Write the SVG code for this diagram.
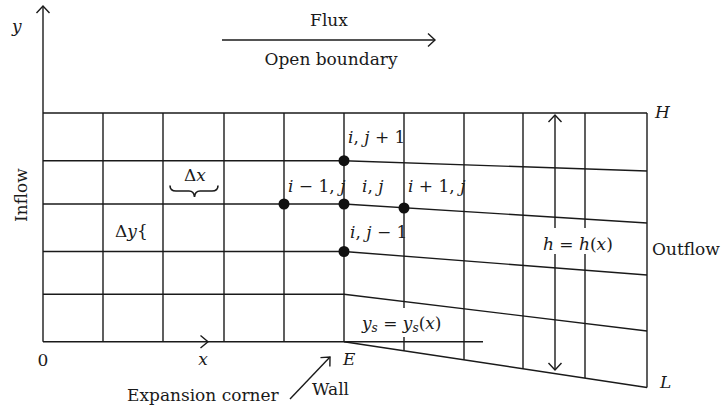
<svg xmlns="http://www.w3.org/2000/svg" width="726" height="410" viewBox="0 0 726 410">
<style>
.ln{stroke:#1a1a1a;stroke-width:1.4;fill:none;stroke-linecap:butt}
.t{font-family:"DejaVu Serif","Liberation Serif",serif;font-size:17px;fill:#1a1a1a}
.i{font-style:italic}
.dot{fill:#111}
</style>
<defs>
<marker id="ah" viewBox="-10 -10 12 20" markerWidth="12" markerHeight="20" refX="0" refY="0" orient="auto" markerUnits="userSpaceOnUse">
<path d="M-7,-6.5 L0,0 L-7,6.5" fill="none" stroke="#1a1a1a" stroke-width="1.4"/>
</marker>
</defs>
<rect width="726" height="410" fill="#fff"/>
<g id="grid" class="ln">
<!-- horizontal rows left part -->
<line x1="43" y1="113" x2="647" y2="113"/>
<line x1="43" y1="160.7" x2="344" y2="160.7"/>
<line x1="43" y1="204" x2="344" y2="204"/>
<line x1="43" y1="251.5" x2="344" y2="251.5"/>
<line x1="43" y1="294.3" x2="344" y2="294.3"/>
<line x1="43" y1="341.7" x2="483" y2="341.7"/>
<!-- sloped rows right part -->
<line x1="344" y1="160.7" x2="647" y2="171"/>
<line x1="344" y1="204" x2="647" y2="223"/>
<line x1="344" y1="251.5" x2="647" y2="275"/>
<line x1="344" y1="294.3" x2="647" y2="331"/>
<line x1="344" y1="341.7" x2="647" y2="387.5"/>
<!-- verticals left -->
<line x1="103" y1="113" x2="103" y2="341.7"/>
<line x1="163" y1="113" x2="163" y2="341.7"/>
<line x1="224" y1="113" x2="224" y2="341.7"/>
<line x1="284" y1="113" x2="284" y2="341.7"/>
<line x1="344" y1="113" x2="344" y2="341.7"/>
<!-- verticals right -->
<line x1="404" y1="113" x2="404" y2="308"/>
<line x1="404" y1="337" x2="404" y2="350.8"/>
<line x1="464" y1="113" x2="464" y2="359.8"/>
<line x1="523" y1="113" x2="523" y2="368.8"/>
<line x1="585" y1="113" x2="585" y2="228"/>
<line x1="585" y1="254" x2="585" y2="378.1"/>
<line x1="647" y1="113" x2="647" y2="387.5"/>
</g>
<g id="axes" class="ln">
<line x1="43" y1="341.7" x2="43" y2="6" marker-end="url(#ah)"/>
<path d="M200.5,335.5 L208,341.7 L200.5,348"/>
</g>
<g id="connectors" class="ln">
<line x1="222" y1="40" x2="435" y2="40" marker-end="url(#ah)"/>
<line x1="555" y1="228" x2="555" y2="115" marker-end="url(#ah)"/>
<line x1="555" y1="254" x2="555" y2="370" marker-end="url(#ah)"/>
<line x1="290" y1="399" x2="330" y2="357" marker-end="url(#ah)"/>
<path d="M170,185.5 Q170,191 176,191 L189,191 Q194,191 194.5,197 Q195,191 200,191 L212,191 Q218,191 218,185.5" stroke-width="1.6"/>
</g>
<g id="nodes">
<circle class="dot" cx="344" cy="160.7" r="5.5"/>
<circle class="dot" cx="284" cy="204" r="5.5"/>
<circle class="dot" cx="344" cy="204" r="5.5"/>
<circle class="dot" cx="404" cy="208" r="5.5"/>
<circle class="dot" cx="344" cy="251.5" r="5.5"/>
</g>
<g id="labels" class="t">
<text x="12" y="32" class="i">y</text>
<text x="329" y="26" text-anchor="middle">Flux</text>
<text x="331" y="65" text-anchor="middle">Open boundary</text>
<text x="655" y="118" class="i">H</text>
<text transform="translate(27,195) rotate(-90)" text-anchor="middle">Inflow</text>
<text x="195" y="181" text-anchor="middle">Δ<tspan class="i">x</tspan></text>
<text x="115" y="237">Δ<tspan class="i">y</tspan>{</text>
<text x="348" y="143"><tspan class="i">i</tspan>, <tspan class="i">j</tspan> + 1</text>
<text x="288" y="192"><tspan class="i">i</tspan> − 1, <tspan class="i">j</tspan></text>
<text x="362" y="192"><tspan class="i">i</tspan>, <tspan class="i">j</tspan></text>
<text x="408" y="192"><tspan class="i">i</tspan> + 1, <tspan class="i">j</tspan></text>
<text x="350" y="238"><tspan class="i">i</tspan>, <tspan class="i">j</tspan> − 1</text>
<text x="543" y="250"><tspan class="i">h</tspan> = <tspan class="i">h</tspan>(<tspan class="i">x</tspan>)</text>
<text x="652" y="255">Outflow</text>
<text x="362" y="329"><tspan class="i">y</tspan><tspan class="i" font-size="12" dy="3">s</tspan><tspan dy="-3"> = </tspan><tspan class="i">y</tspan><tspan class="i" font-size="12" dy="3">s</tspan><tspan dy="-3">(</tspan><tspan class="i">x</tspan>)</text>
<text x="43" y="366" text-anchor="middle">0</text>
<text x="203" y="365" text-anchor="middle" class="i">x</text>
<text x="343" y="365" class="i">E</text>
<text x="660" y="388" class="i">L</text>
<text x="127" y="401">Expansion corner</text>
<text x="312" y="395">Wall</text>
</g>
</svg>
